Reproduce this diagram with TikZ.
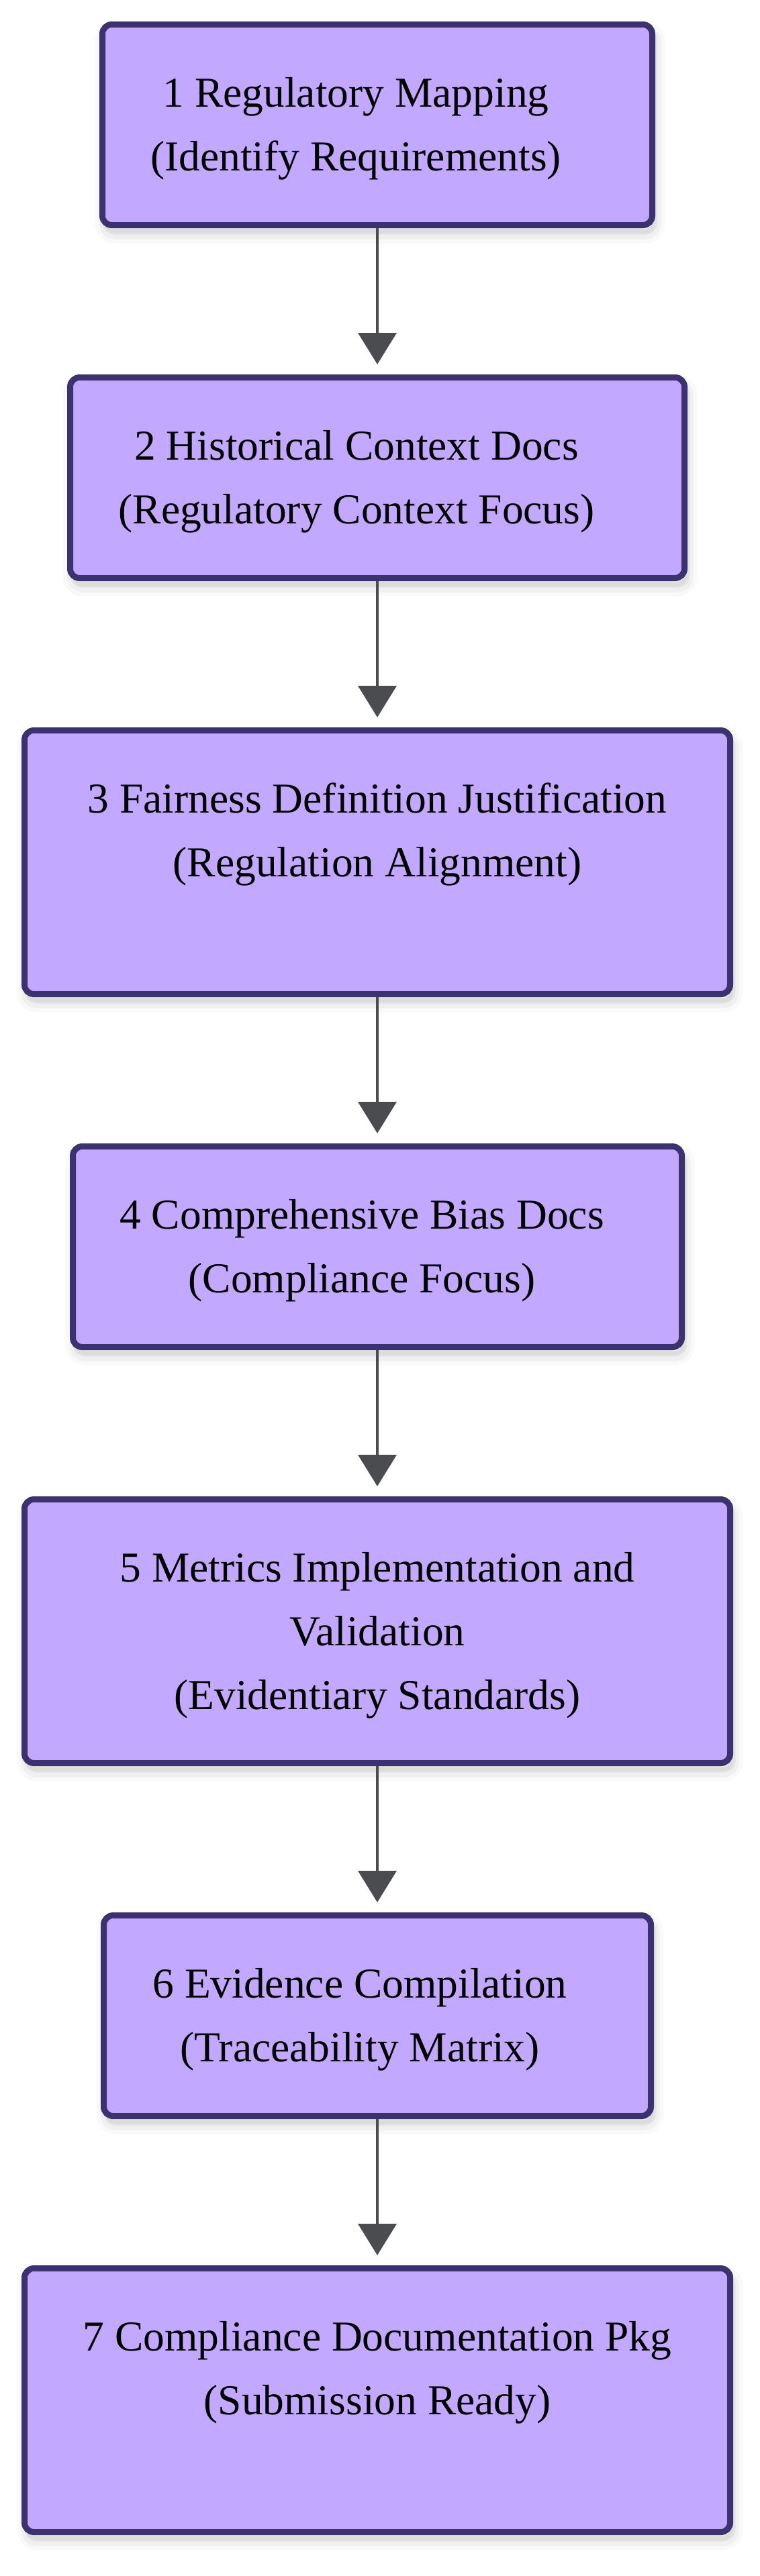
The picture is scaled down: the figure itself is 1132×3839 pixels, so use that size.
\documentclass[tikz,border=0pt]{standalone}
\usepackage{fontspec}
\setmainfont{Liberation Serif}
\usetikzlibrary{arrows.meta}
\definecolor{boxfill}{RGB}{195,168,255}
\definecolor{boxline}{RGB}{61,50,112}
\definecolor{arrowcol}{RGB}{75,76,80}
\tikzset{
  stepbox/.style={draw=boxline, fill=boxfill, line width=9pt, rounded corners=14pt,
    inner sep=0pt, outer sep=4.5pt,
    preaction={draw=black, draw opacity=0.025, line width=30pt, fill=black, fill opacity=0.03, transform canvas={shift={(4pt,-12pt)}}},
    preaction={draw=black, draw opacity=0.035, line width=18pt, transform canvas={shift={(4pt,-12pt)}}},
    preaction={draw=black, draw opacity=0.05, line width=8pt, transform canvas={shift={(4pt,-10pt)}}}},
  lbl/.style={anchor=base, inner sep=0pt, text=black, font=\fontsize{63.5pt}{95pt}\selectfont},
  conn/.style={draw=arrowcol, line width=4pt, -{Triangle[width=57pt,length=47pt]}, shorten >=15pt}
}
\begin{document}
\begin{tikzpicture}[x=1pt,y=-1pt]
\fill[white] (0,0) rectangle (1132,3839);
\useasboundingbox (0,0) rectangle (1132,3839);
% boxes
\node[stepbox, minimum width=819pt, minimum height=299pt] (b1) at (562,186) {};
\node[stepbox, minimum width=915pt, minimum height=299pt] (b2) at (562,712) {};
\node[stepbox, minimum width=1051pt, minimum height=393pt] (b3) at (562,1285) {};
\node[stepbox, minimum width=907pt, minimum height=299pt] (b4) at (562,1858) {};
\node[stepbox, minimum width=1051pt, minimum height=393pt] (b5) at (562,2431) {};
\node[stepbox, minimum width=815pt, minimum height=299pt] (b6) at (562,3004) {};
\node[stepbox, minimum width=1051pt, minimum height=393pt] (b7) at (562,3577) {};
% labels
\node[lbl] (t1a) at (530,159) {1 Regulatory Mapping};
\node[lbl] (t1b) at (530,254) {(Identify Requirements)};
\node[lbl] (t2a) at (531,685) {2 Historical Context Docs};
\node[lbl] (t2b) at (531,780) {(Regulatory Context Focus)};
\node[lbl] (t3a) at (562,1211) {3 Fairness Definition Justification};
\node[lbl] (t3b) at (562,1306) {(Regulation Alignment)};
\node[lbl] (t4a) at (539,1831) {4 Comprehensive Bias Docs};
\node[lbl] (t4b) at (539,1926) {(Compliance Focus)};
\node[lbl] (t5a) at (562,2357) {5 Metrics Implementation and};
\node[lbl] (t5b) at (562,2452) {Validation};
\node[lbl] (t5c) at (562,2547) {(Evidentiary Standards)};
\node[lbl] (t6a) at (536,2977) {6 Evidence Compilation};
\node[lbl] (t6b) at (536,3072) {(Traceability Matrix)};
\node[lbl] (t7a) at (562,3503) {7 Compliance Documentation Pkg};
\node[lbl] (t7b) at (562,3598) {(Submission Ready)};
% connectors
\draw[conn] (b1.south) -- (b2.north);
\draw[conn] (b2.south) -- (b3.north);
\draw[conn] (b3.south) -- (b4.north);
\draw[conn] (b4.south) -- (b5.north);
\draw[conn] (b5.south) -- (b6.north);
\draw[conn] (b6.south) -- (b7.north);
\end{tikzpicture}
\end{document}
